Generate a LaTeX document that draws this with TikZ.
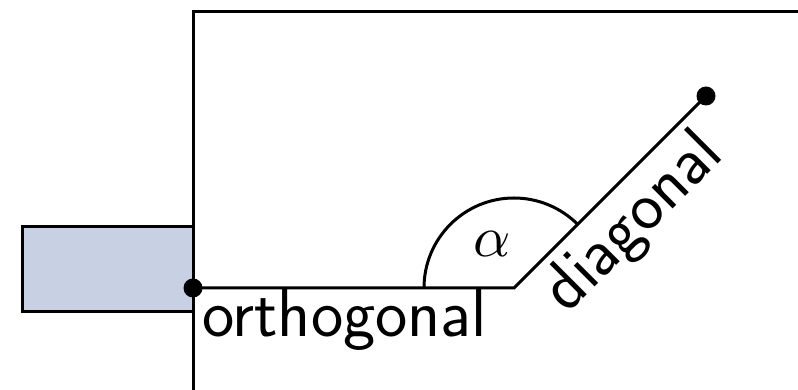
\documentclass[tikz,border=0pt]{standalone}
\usepackage{graphicx}
\usepackage{tikz}
\definecolor{boxblue}{RGB}{200,209,228}
\begin{document}
\begin{tikzpicture}[x=1pt,y=1pt,
  thick line/.style={line width=3pt,line join=miter},
  dotnode/.style={circle,fill=black,inner sep=0pt,minimum size=19pt},
  bigtext/.style={font=\sffamily\fontsize{68.5}{75}\selectfont,inner sep=0pt},
  anglabel/.style={inner sep=0pt}]
\useasboundingbox (0,0) rectangle (798,390);
% shaded box
\draw[thick line,fill=boxblue] (22.5,78) rectangle (193,163);
% frame
\coordinate (FB) at (193,0);
\coordinate (FC) at (193,378);
\coordinate (FR) at (798,378);
\draw[thick line] (FB) -- (FC) -- (FR);
% path
\coordinate (A) at (193,102);
\coordinate (C) at (514,102);
\coordinate (B) at (706,294);
\draw[thick line] (A) -- (C) -- (B);
\draw[thick line] ([shift={(180:90)}]C) arc[start angle=180,end angle=45,radius=90];
\node[dotnode] (dA) at (A) {};
\node[dotnode] (dB) at (B) {};
% labels
\node[anglabel] (alpha) at (492,146) {\scalebox{5.8}{$\alpha$}};
\node[bigtext,anchor=base west] (orth) at (202,53.3) {orthogonal};
\node[bigtext,anchor=base west,rotate=45] (diag) at (567.5,75.5) {diagonal};
\end{tikzpicture}
\end{document}
